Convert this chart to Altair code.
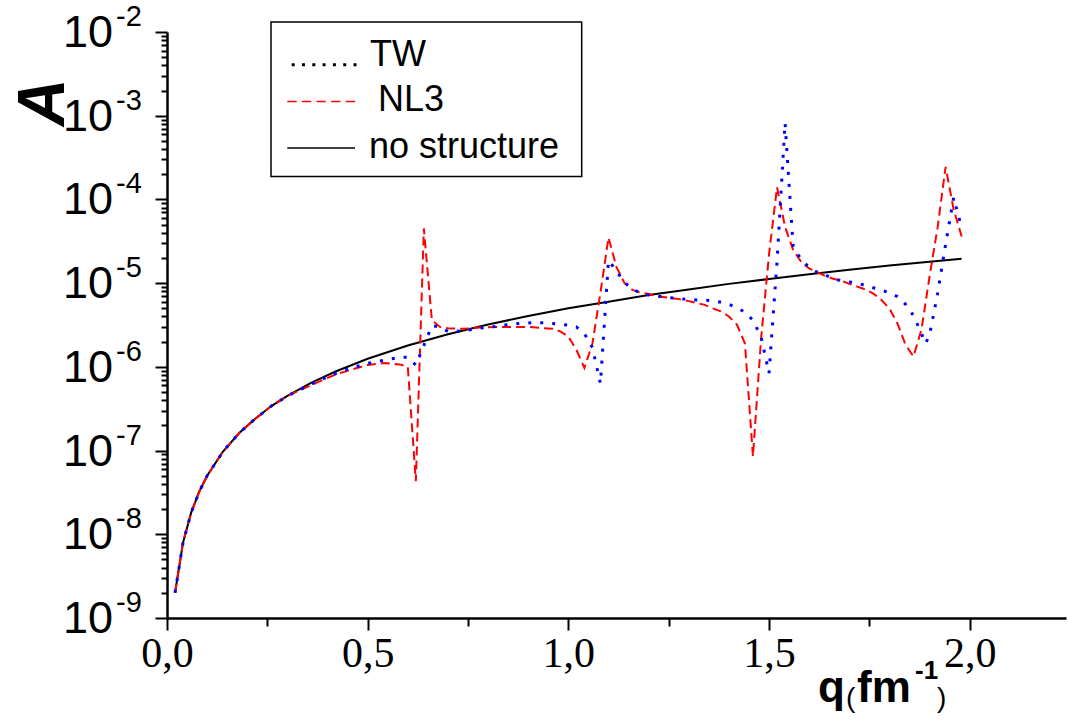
import altair as alt
import pandas as pd

# ---------------- data ----------------
q_ns = [0.02, 0.04, 0.06, 0.08, 0.10, 0.14, 0.18, 0.22, 0.26, 0.30, 0.36, 0.42, 0.50,
        0.60, 0.70, 0.80, 0.90, 1.00, 1.10, 1.20, 1.30, 1.40, 1.50, 1.60, 1.70, 1.80,
        1.90, 1.98]
a_ns = [2.0e-9, 8.0e-9, 1.8e-8, 3.2e-8, 5.0e-8, 9.8e-8, 1.62e-7, 2.4e-7, 3.4e-7, 4.5e-7,
        6.5e-7, 8.8e-7, 1.25e-6, 1.8e-6, 2.45e-6, 3.2e-6, 4.05e-6, 5.0e-6, 6.0e-6, 7.2e-6,
        8.4e-6, 9.8e-6, 1.12e-5, 1.28e-5, 1.45e-5, 1.62e-5, 1.8e-5, 1.96e-5]

q_tw = [0.02, 0.04, 0.06, 0.08, 0.10, 0.14, 0.18, 0.22, 0.26, 0.30, 0.34, 0.38, 0.42,
        0.46, 0.50, 0.54, 0.58, 0.60, 0.62, 0.64, 0.66, 0.68, 0.70, 0.72, 0.74, 0.76,
        0.78, 0.80, 0.84, 0.88, 0.92, 0.96, 1.00, 1.02, 1.04, 1.06, 1.08, 1.10, 1.12,
        1.14, 1.16, 1.18, 1.20, 1.24, 1.28, 1.32, 1.36, 1.38, 1.40, 1.42, 1.44, 1.46,
        1.48, 1.50, 1.52, 1.54, 1.56, 1.58, 1.60, 1.62, 1.64, 1.66, 1.68, 1.72, 1.76,
        1.80, 1.82, 1.84, 1.86, 1.88, 1.89, 1.90, 1.92, 1.94, 1.96, 1.98]
a_tw = [2.0e-9, 8.0e-9, 1.8e-8, 3.2e-8, 5.0e-8, 9.8e-8, 1.62e-7, 2.4e-7, 3.4e-7, 4.5e-7,
        5.6e-7, 6.9e-7, 8.3e-7, 9.7e-7, 1.1e-6, 1.2e-6, 1.3e-6, 1.3e-6, 1.05e-6, 1.8e-6,
        3.1e-6, 3.0e-6, 2.65e-6, 2.65e-6, 2.7e-6, 2.8e-6, 2.9e-6, 2.95e-6, 3.15e-6,
        3.3e-6, 3.4e-6, 3.3e-6, 3.15e-6, 3.0e-6, 2.5e-6, 1.7e-6, 6.3e-7, 1.86e-5, 1.4e-5,
        1.02e-5, 8.5e-6, 7.6e-6, 7.2e-6, 6.8e-6, 6.5e-6, 6.3e-6, 6.2e-6, 5.9e-6, 5.6e-6,
        5.1e-6, 4.5e-6, 3.6e-6, 2.3e-6, 8.4e-7, 1.8e-5, 8.2e-4, 2.8e-5, 1.9e-5, 1.55e-5,
        1.35e-5, 1.25e-5, 1.13e-5, 1.07e-5, 1.0e-5, 8.8e-6, 7.7e-6, 6.9e-6, 5.6e-6,
        4.1e-6, 2.5e-6, 1.9e-6, 2.4e-6, 7.5e-6, 2.9e-5, 1.05e-4, 4.6e-5]

q_nl3 = [0.02, 0.04, 0.06, 0.08, 0.10, 0.14, 0.18, 0.22, 0.26, 0.30, 0.34, 0.38, 0.42,
         0.46, 0.50, 0.54, 0.58, 0.60, 0.62, 0.64, 0.66, 0.68, 0.70, 0.74, 0.78, 0.82,
         0.86, 0.90, 0.94, 0.96, 0.98, 1.00, 1.02, 1.04, 1.06, 1.08, 1.10, 1.12, 1.14,
         1.16, 1.18, 1.20, 1.22, 1.24, 1.26, 1.28, 1.30, 1.32, 1.34, 1.36, 1.38, 1.40,
         1.42, 1.44, 1.46, 1.48, 1.50, 1.52, 1.54, 1.56, 1.58, 1.60, 1.62, 1.64, 1.66,
         1.68, 1.70, 1.72, 1.74, 1.76, 1.78, 1.80, 1.82, 1.84, 1.86, 1.88, 1.90, 1.92,
         1.94, 1.96, 1.98]
a_nl3 = [2.0e-9, 8.0e-9, 1.8e-8, 3.2e-8, 5.0e-8, 9.8e-8, 1.62e-7, 2.4e-7, 3.4e-7, 4.5e-7,
         5.5e-7, 6.7e-7, 8.1e-7, 9.3e-7, 1.05e-6, 1.11e-6, 1.07e-6, 1.0e-6, 4.3e-8, 4.5e-5,
         3.6e-6, 3.0e-6, 2.9e-6, 2.85e-6, 2.95e-6, 3.0e-6, 3.0e-6, 3.0e-6, 2.9e-6, 2.85e-6,
         2.65e-6, 2.3e-6, 1.6e-6, 9.7e-7, 1.9e-6, 7.7e-6, 3.5e-5, 1.55e-5, 1.0e-5, 8.3e-6,
         7.7e-6, 7.4e-6, 7.0e-6, 6.8e-6, 6.6e-6, 6.4e-6, 6.1e-6, 5.8e-6, 5.5e-6, 5.0e-6,
         4.6e-6, 4.0e-6, 3.2e-6, 1.9e-6, 8.5e-8, 2.1e-6, 2.2e-5, 1.4e-4, 4.7e-5, 2.5e-5,
         1.8e-5, 1.5e-5, 1.35e-5, 1.22e-5, 1.13e-5, 1.07e-5, 9.8e-6, 9.1e-6, 8.4e-6,
         7.5e-6, 6.3e-6, 5.0e-6, 3.3e-6, 1.84e-6, 1.33e-6, 2.8e-6, 1.2e-5, 4.6e-5,
         2.45e-4, 7.6e-5, 3.6e-5]

legend_labels = ["TW", "NL3", "no structure"]
x_tick_values = [0.0, 0.25, 0.5, 0.75, 1.0, 1.25, 1.5, 1.75, 2.0]
y_exponents = [-9, -8, -7, -6, -5, -4, -3, -2]
x_title_parts = ["q", "(", "fm", "-1", ")"]

# ---------------- build ----------------
df_ns = pd.DataFrame({"q": q_ns, "A": a_ns})
df_tw = pd.DataFrame({"q": q_tw, "A": a_tw})
df_nl3 = pd.DataFrame({"q": q_nl3, "A": a_nl3})

y_tick_values = []
for e in y_exponents[:-1]:
    for m in range(1, 10):
        y_tick_values.append(float(f"{m}e{e}"))
y_tick_values.append(float(f"1e{y_exponents[-1]}"))

df_ylab = pd.DataFrame({
    "v": [float(f"1e{e}") for e in y_exponents],
    "base": ["10"] * len(y_exponents),
    "exp": [str(e) for e in y_exponents],
})

lg = "(log(datum.value)/LN10)"
y_major = f"abs({lg} - round({lg})) < 0.001"
x_major = "abs(datum.value*2 - round(datum.value*2)) < 0.001"
x_label_expr = f"{x_major} ? replace(format(datum.value, '.1f'), '.', ',') : ''"

x_scale = alt.Scale(domain=[0, 2.24], nice=False, zero=False)
y_scale = alt.Scale(type="log", domain=[1e-9, 1e-2], nice=False)

x_axis = alt.Axis(
    values=x_tick_values, labelExpr=x_label_expr,
    tickSize={"condition": {"test": x_major, "value": 12}, "value": 8},
    labelFont="Liberation Sans Narrow", labelFontSize=42, labelPadding=3,
    labelColor="black", labelFlush=False, labelOverlap=False,
    domainColor="black", domainWidth=2.5, tickColor="black", tickWidth=2,
    grid=False, title="",
)
y_axis = alt.Axis(
    values=y_tick_values, labels=False,
    tickSize={"condition": {"test": y_major, "value": 12}, "value": 6},
    domainColor="black", domainWidth=2.5, tickColor="black", tickWidth=2,
    grid=False,
    title="A", titleFont="Liberation Sans", titleFontWeight="bold",
    titleFontStyle="italic", titleFontSize=66, titleColor="black",
    titleX=-124, titleY=70, titleAlign="center", titleBaseline="middle",
    titleAngle=270,
)

X = alt.X("q:Q", scale=x_scale, axis=x_axis)
Y = alt.Y("A:Q", scale=y_scale, axis=y_axis)

ns_line = alt.Chart(df_ns).mark_line(color="black", strokeWidth=2).encode(x=X, y=Y)
nl3_line = alt.Chart(df_nl3).mark_line(color="#ff0000", strokeWidth=2,
                                       strokeDash=[9, 5]).encode(x=X, y=Y)
tw_line = alt.Chart(df_tw).mark_line(color="#0000ff", strokeWidth=3,
                                     strokeDash=[3, 9]).encode(x=X, y=Y)

# y tick labels: "10" with a raised exponent
YL = alt.Y("v:Q", scale=y_scale, axis=y_axis)
ylab_base = alt.Chart(df_ylab).mark_text(
    font="Liberation Sans", fontSize=45, color="black", align="right",
    baseline="middle", dy=1).encode(text="base:N", x=alt.value(-54), y=YL)
ylab_exp = alt.Chart(df_ylab).mark_text(
    font="Liberation Sans", fontSize=29, color="black", align="left",
    baseline="alphabetic", dy=-6).encode(text="exp:N", x=alt.value(-51), y=YL)

# ---------------- x-axis title q(fm^-1) ----------------
def free_text(label, x, y, size, weight="normal"):
    return alt.Chart(pd.DataFrame({"t": [label]})).mark_text(
        font="Liberation Sans", fontSize=size, fontWeight=weight, color="black",
        align="left", baseline="alphabetic").encode(
        text="t:N", x=alt.value(x), y=alt.value(y))

xt_q = free_text(x_title_parts[0], 651, 670, 44, "bold")
xt_o = free_text(x_title_parts[1], 679, 675, 28)
xt_fm = free_text(x_title_parts[2], 690, 670, 44, "bold")
xt_e = free_text(x_title_parts[3], 748, 647, 26, "bold")
xt_c = free_text(x_title_parts[4], 770, 675, 28)

# ---------------- hand-made legend box ----------------
one = pd.DataFrame({"k": [0]})
leg_box = alt.Chart(one).mark_rect(fill="white", stroke="black", strokeWidth=1.5).encode(
    x=alt.value(104), x2=alt.value(414.7), y=alt.value(-10), y2=alt.value(144.4))
leg_tw = alt.Chart(one).mark_rule(color="black", strokeWidth=3, strokeDash=[3, 7.3]).encode(
    x=alt.value(124.7), x2=alt.value(190), y=alt.value(32.7))
leg_nl3 = alt.Chart(one).mark_rule(color="#ff0000", strokeWidth=1.5, strokeDash=[9.3, 5.3]).encode(
    x=alt.value(120.3), x2=alt.value(188), y=alt.value(69.4))
leg_ns = alt.Chart(one).mark_rule(color="black", strokeWidth=1.5).encode(
    x=alt.value(120.3), x2=alt.value(188), y=alt.value(116))

leg_t1 = free_text(legend_labels[0], 203, 34.4, 36)
leg_t2 = free_text(legend_labels[1], 211, 79.4, 36)
leg_t3 = free_text(legend_labels[2], 202, 126, 36)

chart = alt.layer(
    ns_line, nl3_line, tw_line, ylab_base, ylab_exp,
    xt_q, xt_o, xt_fm, xt_e, xt_c,
    leg_box, leg_tw, leg_nl3, leg_ns, leg_t1, leg_t2, leg_t3,
).properties(
    width=899, height=586,
    autosize=alt.AutoSizeParams(type="none"),
    padding={"left": 167, "top": 32, "right": 2, "bottom": 100},
    background="white",
).configure_view(stroke=None)

chart.save("out.html", embed_options={"renderer": "svg", "actions": False})
